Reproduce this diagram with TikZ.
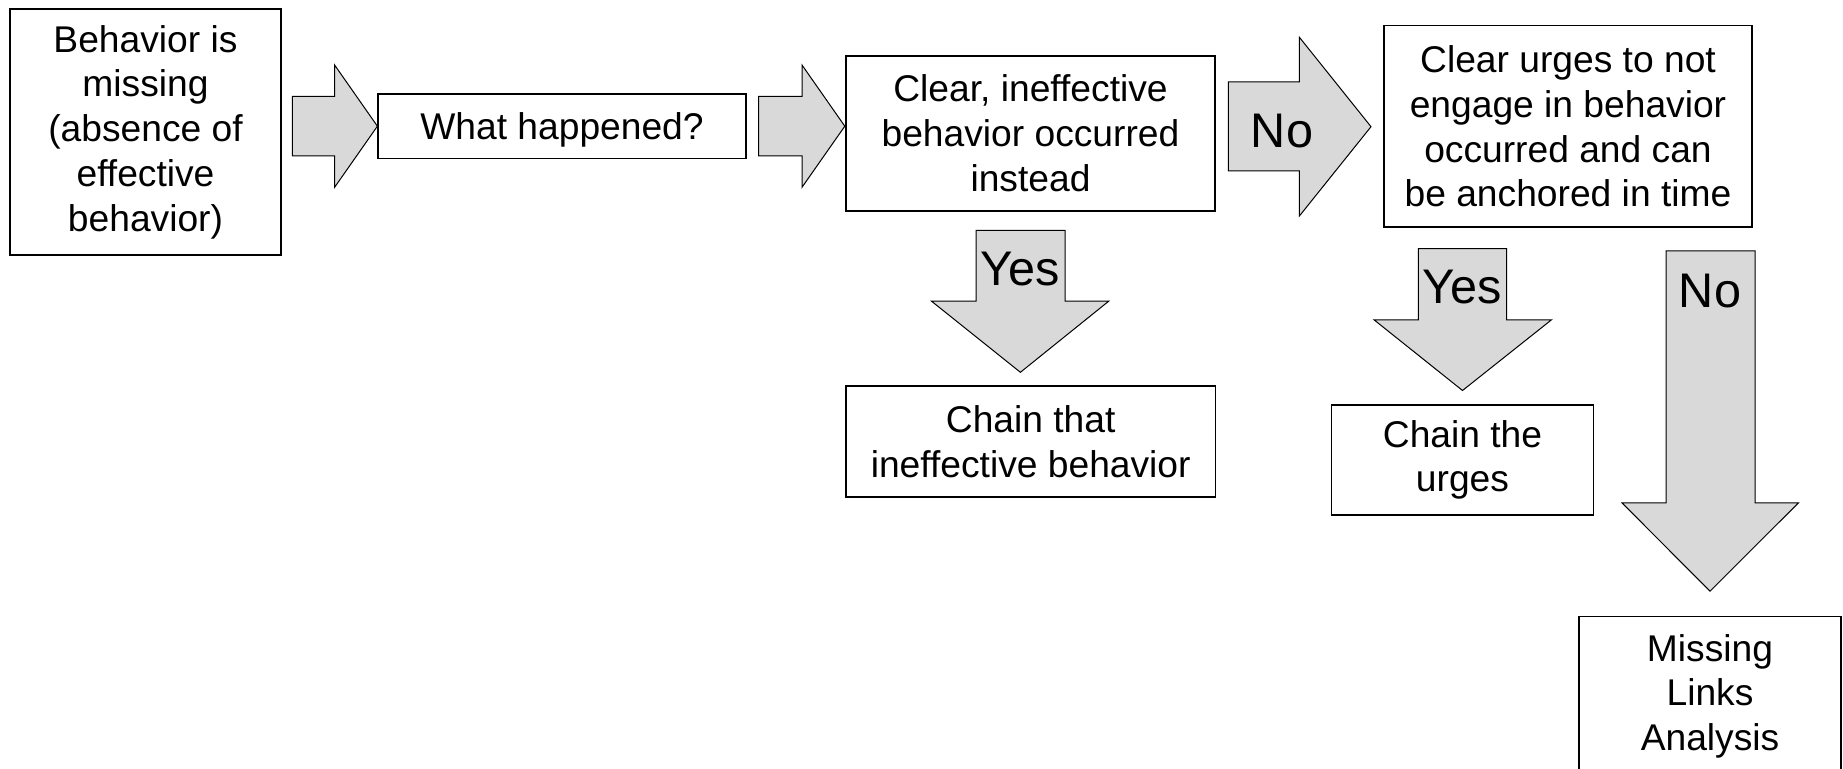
\documentclass[tikz,border=0pt]{standalone}
\usepackage{fontspec}
\setmainfont{Liberation Sans}
\definecolor{arrowfill}{RGB}{217,217,217}
\begin{document}
\begin{tikzpicture}[x=0.5pt,y=-0.5pt,
  box/.style={draw=black, line width=0.8pt, fill=white, align=center, inner sep=0pt,
    font=\fontsize{18.6}{22.35}\selectfont},
  blockarrow/.style={draw=black, line width=0.5pt, fill=arrowfill, line join=miter},
  lbl/.style={inner sep=0pt, font=\fontsize{24.3}{28}\selectfont}]
\clip (0,0) rectangle (1843,769);
\fill[white] (0,0) rectangle (1843,769);

% boxes
\node[box, minimum width=135.5pt, minimum height=123pt] (missing) at (145.5,132)
  {Behavior is\\missing\\(absence of\\effective\\behavior)};
\node[box, minimum width=183.75pt, minimum height=32.3pt, text height=16.8pt, text depth=3.9pt] (what) at (562,126.3)
  {What happened?};
\node[box, minimum width=184.5pt, minimum height=77.5pt] (ineff) at (1030.5,133.3)
  {Clear, ineffective\\behavior occurred\\instead};
\node[box, minimum width=184pt, minimum height=100.8pt] (urges) at (1568,126.5)
  {Clear urges to not\\engage in behavior\\occurred and can\\be anchored in time};
\node[box, minimum width=184.7pt, minimum height=55.5pt] (chain1) at (1030.7,441.8)
  {Chain that\\ineffective behavior};
\node[box, minimum width=131pt, minimum height=55.2pt] (chain2) at (1462.5,460)
  {Chain the\\urges};
\node[box, minimum width=131pt, minimum height=79.6pt] (mla) at (1710,696.3)
  {Missing\\Links\\Analysis};

% block arrows
\draw[blockarrow] (292.4,96.5) -- (334.6,96.5) -- (334.6,65) -- (377.4,126.2)
  -- (334.6,187.3) -- (334.6,156) -- (292.4,156) -- cycle;
\draw[blockarrow] (758.6,96.5) -- (802,96.5) -- (802,65) -- (844.8,126.2)
  -- (802,187.3) -- (802,156) -- (758.6,156) -- cycle;
\draw[blockarrow] (1228.3,82) -- (1299.4,82) -- (1299.4,37.3) -- (1371,126.7)
  -- (1299.4,216) -- (1299.4,171) -- (1228.3,171) -- cycle;
\draw[blockarrow] (976,230.5) -- (1065,230.5) -- (1065,301.2) -- (1108.7,301.2)
  -- (1020.4,372.3) -- (931.5,301.2) -- (976,301.2) -- cycle;
\draw[blockarrow] (1418.4,248.7) -- (1506.7,248.7) -- (1506.7,319.8) -- (1551.5,319.8)
  -- (1462.5,390.5) -- (1374,319.8) -- (1418.4,319.8) -- cycle;
\draw[blockarrow] (1666,250.8) -- (1755,250.8) -- (1755,502.9) -- (1798.4,502.9)
  -- (1710,591.2) -- (1622,502.9) -- (1666,502.9) -- cycle;

% arrow labels
\node[lbl] (lno1) at (1282,130.8) {No};
\node[lbl] (lyes1) at (1020.6,268.9) {Yes};
\node[lbl] (lyes2) at (1462.5,287.4) {Yes};
\node[lbl] (lno2) at (1710,290.9) {No};
\end{tikzpicture}
\end{document}
